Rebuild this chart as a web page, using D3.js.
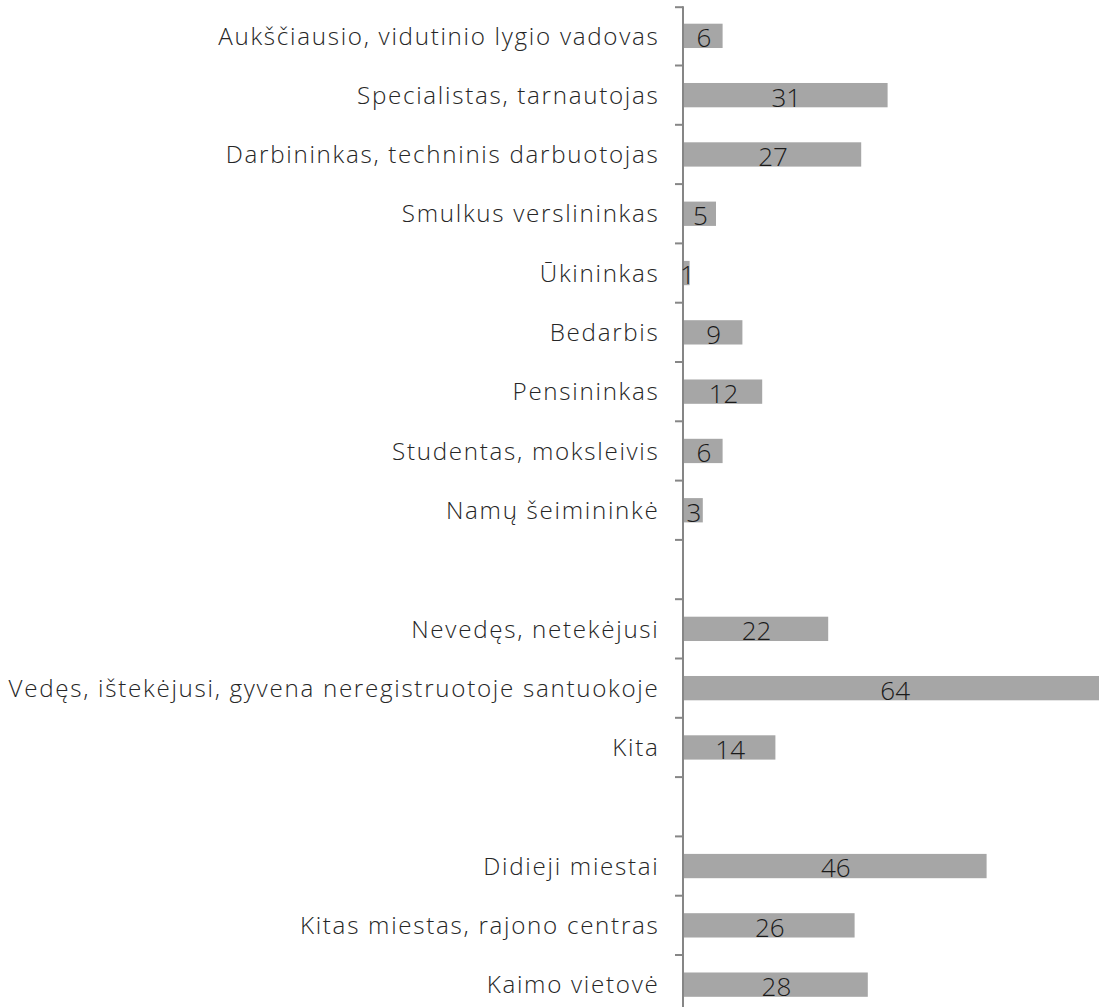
<!DOCTYPE html>
<html><head><meta charset="utf-8">
<script src="https://cdn.jsdelivr.net/npm/d3@7"></script>
<style>body{margin:0;background:#fff;}svg{display:block;}</style>
</head><body>
<svg id="c" width="1099" height="1007"></svg>
<script>
const categories = [
  "Aukščiausio, vidutinio lygio vadovas",
  "Specialistas, tarnautojas",
  "Darbininkas, techninis darbuotojas",
  "Smulkus verslininkas",
  "Ūkininkas",
  "Bedarbis",
  "Pensininkas",
  "Studentas, moksleivis",
  "Namų šeimininkė",
  "",
  "Nevedęs, netekėjusi",
  "Vedęs, ištekėjusi, gyvena neregistruotoje santuokoje",
  "Kita",
  "",
  "Didieji miestai",
  "Kitas miestas, rajono centras",
  "Kaimo vietovė"
];
const values = [6, 31, 27, 5, 1, 9, 12, 6, 3, null, 22, 64, 14, null, 46, 26, 28];

const svg = d3.select("#c");
const x0 = 683;
const x = d3.scaleLinear().domain([0, 64]).range([x0, x0 + 64 * 6.6]);
const idx = d3.range(categories.length);
const y = d3.scaleBand().domain(idx).range([6.2, 6.2 + 59.3 * categories.length]).paddingInner(0.59).paddingOuter(0.295);
const step = y.step();

const font = "'Open Sans', 'Segoe UI', sans-serif";

// bars
svg.append("g").selectAll("rect")
  .data(idx.filter(i => values[i] != null))
  .join("rect")
  .attr("x", x0)
  .attr("y", i => y(i))
  .attr("width", i => x(values[i]) - x0)
  .attr("height", y.bandwidth())
  .attr("fill", "#a6a6a6");

// axis line and ticks
const ag = svg.append("g").attr("stroke", "#868686").attr("stroke-width", 2);
ag.append("line").attr("x1", x0).attr("x2", x0).attr("y1", 6.2).attr("y2", 6.2 + step * categories.length);
ag.selectAll("line.t").data(d3.range(categories.length + 1)).join("line").attr("class", "t")
  .attr("x1", x0 - 8).attr("x2", x0)
  .attr("y1", i => 6.2 + i * step + (i === 0 ? 1 : 0))
  .attr("y2", i => 6.2 + i * step + (i === 0 ? 1 : 0));

// category labels
svg.append("g").selectAll("text")
  .data(idx.filter(i => categories[i] !== ""))
  .join("text")
  .attr("x", 659.5)
  .attr("y", i => y(i) + y.bandwidth() / 2)
  .attr("dy", "0.36em")
  .attr("text-anchor", "end")
  .attr("font-family", font)
  .attr("font-weight", 300)
  .attr("font-size", 24.2)
  .attr("letter-spacing", "1.7px")
  .attr("fill", "#262626")
  .text(i => categories[i]);

// value labels
svg.append("g").selectAll("text")
  .data(idx.filter(i => values[i] != null))
  .join("text")
  .attr("x", i => (x0 + x(values[i])) / 2 + 1)
  .attr("y", i => y(i) + y.bandwidth() / 2 + 2)
  .attr("dy", "0.36em")
  .attr("text-anchor", "middle")
  .attr("font-family", font)
  .attr("font-weight", 300)
  .attr("font-size", 26)
  .attr("fill", "#1a1a1a")
  .text(i => values[i]);
</script>
</body></html>
